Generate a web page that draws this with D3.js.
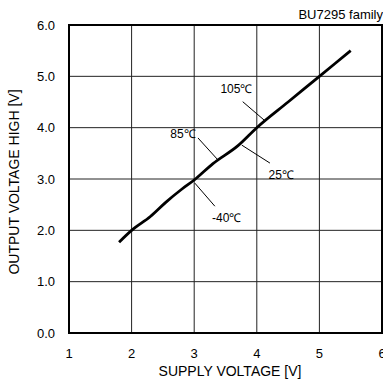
<!DOCTYPE html>
<html><head><meta charset="utf-8">
<script src="https://cdn.jsdelivr.net/npm/d3@7"></script>
<style>body{margin:0;background:#fff}svg{display:block}text{font-family:"Liberation Sans",Arial,sans-serif;fill:#000}</style>
</head><body><svg id="c" width="383" height="380"></svg>
<script>
const xTicks = [1,2,3,4,5,6];
const yTicks = [0,1,2,3,4,5,6];
const supplyV = [1.8,2.0,2.3,2.55,2.8,3.0,3.3,3.7,4.0,4.5,5.0,5.5];
const outputV = [1.77,2.0,2.27,2.55,2.8,2.98,3.3,3.65,4.0,4.5,5.0,5.5];
const labelText = ["105℃","85℃","25℃","-40℃"];
const labelX = [3.675,2.82,4.39,3.52];
const labelY = [4.68,3.80,3.0,2.16];
const leaderFrom = [[3.775,4.506],[3.06,3.80],[3.76,3.66],[3.01,2.92]];
const leaderTo = [[4.115,4.15],[3.38,3.37],[4.21,3.31],[3.33,2.47]];

const svg = d3.select("#c");
const L=69,R=382,T=25,B=333;
const x = d3.scaleLinear().domain([1,6]).range([L,R]);
const y = d3.scaleLinear().domain([0,6]).range([B,T]);

svg.append("g").selectAll("line").data(xTicks.slice(1,-1)).join("line")
  .attr("x1",d=>x(d)).attr("x2",d=>x(d)).attr("y1",T).attr("y2",B)
  .attr("stroke","#222").attr("stroke-width",1);
svg.append("g").selectAll("line").data(yTicks.slice(1,-1)).join("line")
  .attr("x1",L).attr("x2",R).attr("y1",d=>y(d)).attr("y2",d=>y(d))
  .attr("stroke","#222").attr("stroke-width",1);
svg.append("rect").attr("x",L).attr("y",T).attr("width",R-L).attr("height",B-T)
  .attr("fill","none").attr("stroke","#000").attr("stroke-width",2);

svg.append("g").selectAll("text").data(yTicks).join("text")
  .attr("x",55).attr("y",d=>y(d)+4.5).attr("text-anchor","end").attr("font-size",13)
  .text(d=>d.toFixed(1));
svg.append("g").selectAll("text").data(xTicks).join("text")
  .attr("x",d=>x(d)).attr("y",358).attr("text-anchor","middle").attr("font-size",13)
  .text(d=>d);

svg.append("text").attr("x",230).attr("y",376).attr("text-anchor","middle").attr("font-size",14)
  .text("SUPPLY VOLTAGE [V]");
svg.append("text").attr("transform","translate(19,182) rotate(-90)").attr("text-anchor","middle").attr("font-size",14)
  .text("OUTPUT VOLTAGE HIGH [V]");
svg.append("text").attr("x",383).attr("y",19).attr("text-anchor","end").attr("font-size",13)
  .text("BU7295 family");

const pts = supplyV.map((v,i)=>[v,outputV[i]]);
svg.append("path").datum(pts)
  .attr("d",d3.line().x(d=>x(d[0])).y(d=>y(d[1])).curve(d3.curveMonotoneX))
  .attr("fill","none").attr("stroke","#000").attr("stroke-width",2.8);

svg.append("g").selectAll("line").data(leaderFrom).join("line")
  .attr("x1",d=>x(d[0])).attr("y1",d=>y(d[1]))
  .attr("x2",(d,i)=>x(leaderTo[i][0])).attr("y2",(d,i)=>y(leaderTo[i][1]))
  .attr("stroke","#000").attr("stroke-width",1);
svg.append("g").selectAll("text").data(labelText).join("text")
  .attr("x",(d,i)=>x(labelX[i])).attr("y",(d,i)=>y(labelY[i]))
  .attr("text-anchor","middle").attr("font-size",12)
  .text(d=>d);
</script></body></html>
